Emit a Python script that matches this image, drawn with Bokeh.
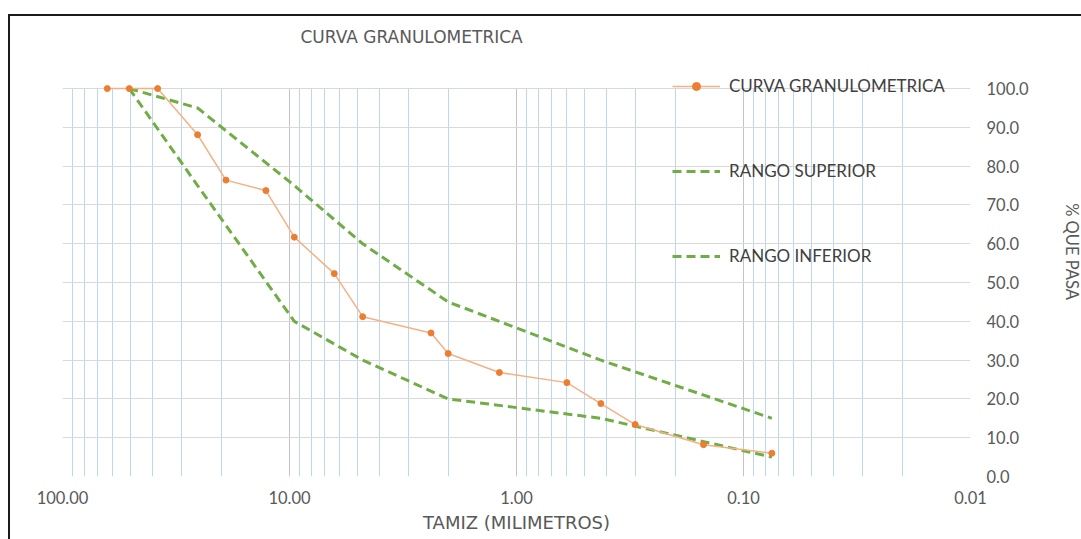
from bokeh.plotting import figure
from bokeh.models import (Range1d, FixedTicker, CustomJSTickFormatter, PrintfTickFormatter,
                          Legend, LegendItem, Label)
from bokeh.embed import file_html
from bokeh.resources import INLINE

# Sieve openings (mm) and percent passing for the sample
tamiz_mm = [63.5, 50.8, 38.1, 25.4, 19.05, 12.7, 9.525, 6.35, 4.76, 2.38, 2.0,
            1.19, 0.6, 0.425, 0.3, 0.15, 0.075]
pasa_pct = [100.0, 100.0, 100.0, 88.1, 76.4, 73.7, 61.7, 52.3, 41.2, 37.0, 31.7,
            26.8, 24.2, 18.8, 13.4, 8.2, 6.0]

# Gradation band limits
rango_mm = [50.8, 25.4, 9.525, 4.76, 2.0, 0.425, 0.075]
rango_superior = [100, 95, 75, 60, 45, 30, 15]
rango_inferior = [100, 75, 40, 30, 20, 15, 5]

x_ticks = [100, 10, 1, 0.1, 0.01]
y_ticks = [0, 10, 20, 30, 40, 50, 60, 70, 80, 90, 100]

FONT = "Lato"
TXT = "#595959"

# Headroom above 100 % holds the title and the legend's first row
p = figure(frame_width=908, frame_height=450, x_axis_type="log", y_axis_location="right",
           x_range=Range1d(100, 0.01), y_range=Range1d(0, 116),
           output_backend="svg", toolbar_location=None,
           min_border_left=52, min_border_right=111, min_border_top=10, min_border_bottom=63)
p.margin = (14, 0, 0, 8)
p.styles = {"border-left": "2px solid #1b1b1b", "border-top": "2px solid #1b1b1b"}
p.outline_line_color = None
p.background_fill_color = "white"
p.border_fill_color = "white"

# Axes
minor = [m * d for d in [0.01, 0.1, 1, 10] for m in range(2, 10)]
p.xaxis.ticker = FixedTicker(ticks=x_ticks, minor_ticks=minor)
p.xaxis.formatter = CustomJSTickFormatter(code="return tick.toFixed(2);")
p.yaxis.ticker = FixedTicker(ticks=y_ticks)
p.yaxis.formatter = PrintfTickFormatter(format="%.1f")

for ax in (p.xaxis, p.yaxis):
    ax.axis_line_color = None
    ax.major_tick_line_color = None
    ax.minor_tick_line_color = None
    ax.major_tick_out = 0
    ax.minor_tick_out = 0
    ax.major_tick_in = 0
    ax.minor_tick_in = 0
    ax.major_label_text_font = FONT
    ax.major_label_text_font_size = "16.5px"
    ax.major_label_text_color = TXT
    ax.axis_label_text_font_style = "normal"
    ax.axis_label_text_color = TXT

p.xaxis.axis_label = "TAMIZ (MILIMETROS)"
p.xaxis.axis_label_text_font = "DejaVu Sans"
p.xaxis.axis_label_text_font_size = "18px"
p.xaxis.major_label_standoff = 14
p.xaxis.axis_label_standoff = 5
p.yaxis.axis_label = "% QUE PASA"
p.yaxis.axis_label_text_font = FONT
p.yaxis.axis_label_text_font_size = "16.5px"
p.yaxis.major_label_standoff = 16
p.yaxis.axis_label_standoff = 30

# Grid: vertical lines stop at 100 %
p.xgrid.grid_line_color = "#C4C4C4"
p.xgrid.minor_grid_line_color = "#BDD7EE"
p.xgrid.cross_bounds = (0, 100)
p.ygrid.grid_line_color = "#D9D9D9"
p.ygrid.grid_line_width = 1.2

# Series
sup = p.line(rango_mm, rango_superior, line_color="#70AD47", line_width=3, line_dash="9 5")
inf = p.line(rango_mm, rango_inferior, line_color="#70AD47", line_width=3, line_dash="9 5")
cl = p.line(tamiz_mm, pasa_pct, line_color="#F4B183", line_width=1.5)
cm = p.scatter(tamiz_mm, pasa_pct, size=6, fill_color="#ED7D31", line_color="#ED7D31")

legend = Legend(items=[
    LegendItem(label="CURVA GRANULOMETRICA", renderers=[cl, cm]),
    LegendItem(label="RANGO SUPERIOR", renderers=[sup]),
    LegendItem(label="RANGO INFERIOR", renderers=[inf]),
], location=(610, 210), padding=0, margin=0, spacing=64,
    glyph_width=48, glyph_height=20, label_height=20, label_standoff=9,
    border_line_color=None, background_fill_alpha=0,
    label_text_font=FONT, label_text_font_size="17px", label_text_color="#404040")
p.add_layout(legend)

# Chart title
p.add_layout(Label(x=238, y=440, x_units="screen", y_units="screen",
                   text="CURVA GRANULOMETRICA", text_font="DejaVu Sans", text_font_size="17px",
                   text_color=TXT, text_align="left", text_baseline="middle"))

open("out.html", "w").write(file_html(p, INLINE))
